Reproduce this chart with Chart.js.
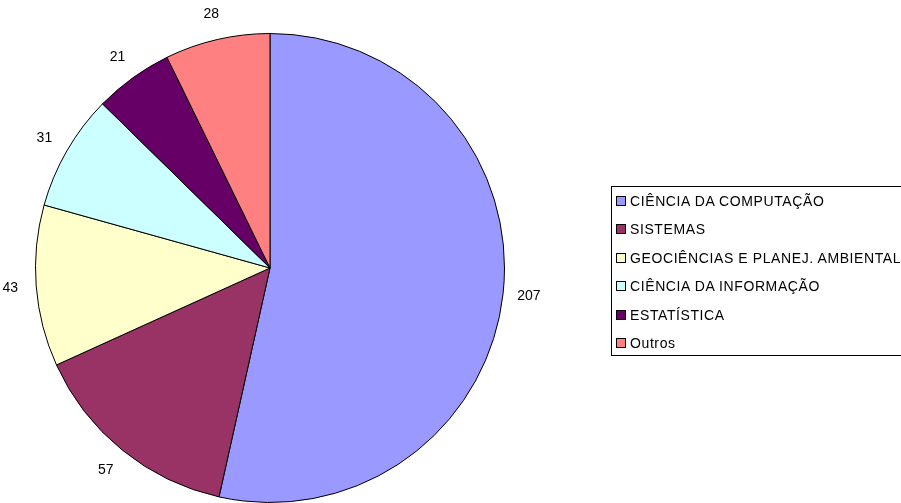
<!DOCTYPE html>
<html>
<head>
<meta charset="utf-8">
<script src="https://cdn.jsdelivr.net/npm/chart.js@4/dist/chart.umd.min.js"></script>
<style>
  html, body { margin:0; padding:0; background:#fff; }
  #wrap { position:relative; width:901px; height:503px; overflow:hidden; }
  #pie { position:absolute; left:0; top:0; }
  #legend { position:absolute; left:611px; top:186px; width:310px; height:170px; border:1px solid #000; box-sizing:border-box;
    font-family:"Liberation Sans", Arial, sans-serif; font-size:14px; letter-spacing:0.6px; color:#000; }
  #legend .row { position:absolute; left:4px; height:16px; line-height:16px; white-space:nowrap; }
  #legend .sw { display:inline-block; width:8px; height:8px; border:1px solid #000; vertical-align:0px; margin-right:4px; }
</style>
</head>
<body>
<div id="wrap">
  <canvas id="pie" width="901" height="503"></canvas>
  <div id="legend"></div>
</div>
<script>
  // data
  const categories = ['CIÊNCIA DA COMPUTAÇÃO', 'SISTEMAS', 'GEOCIÊNCIAS E PLANEJ. AMBIENTAL', 'CIÊNCIA DA INFORMAÇÃO', 'ESTATÍSTICA', 'Outros'];
  const values = [207, 57, 43, 31, 21, 28];
  const colors = ['#9999FF', '#993366', '#FFFFCC', '#CCFFFF', '#660066', '#FF8080'];

  // value labels outside each slice
  const outsideLabels = {
    id: 'outsideLabels',
    afterDatasetsDraw(chart){
      const ctx = chart.ctx;
      const meta = chart.getDatasetMeta(0);
      ctx.save();
      ctx.font = '14px "Liberation Sans", Arial, sans-serif';
      ctx.fillStyle = '#000';
      ctx.textAlign = 'center';
      ctx.textBaseline = 'middle';
      meta.data.forEach((arc, i) => {
        const p = arc.getProps(['x','y','startAngle','endAngle','outerRadius'], true);
        const mid = (p.startAngle + p.endAngle) / 2;
        const r = p.outerRadius + 26;
        ctx.fillText(String(values[i]), p.x + Math.cos(mid) * r, p.y + Math.sin(mid) * r);
      });
      ctx.restore();
    }
  };

  new Chart(document.getElementById('pie'), {
    type: 'pie',
    data: {
      labels: categories,
      datasets: [{ data: values, backgroundColor: colors, borderColor: '#000', borderWidth: 1 }]
    },
    options: {
      responsive: false,
      animation: false,
      layout: { padding: { top: 33, bottom: 0, left: 35, right: 396 } },
      plugins: { legend: { display: false }, tooltip: { enabled: false } }
    },
    plugins: [outsideLabels]
  });

  // legend box
  const legend = document.getElementById('legend');
  categories.forEach((c, i) => {
    const row = document.createElement('div');
    row.className = 'row';
    row.style.top = (6 + i * 28.4) + 'px';
    row.innerHTML = `<span class="sw" style="background:${colors[i]}"></span>${c}`;
    legend.appendChild(row);
  });
</script>
</body>
</html>
